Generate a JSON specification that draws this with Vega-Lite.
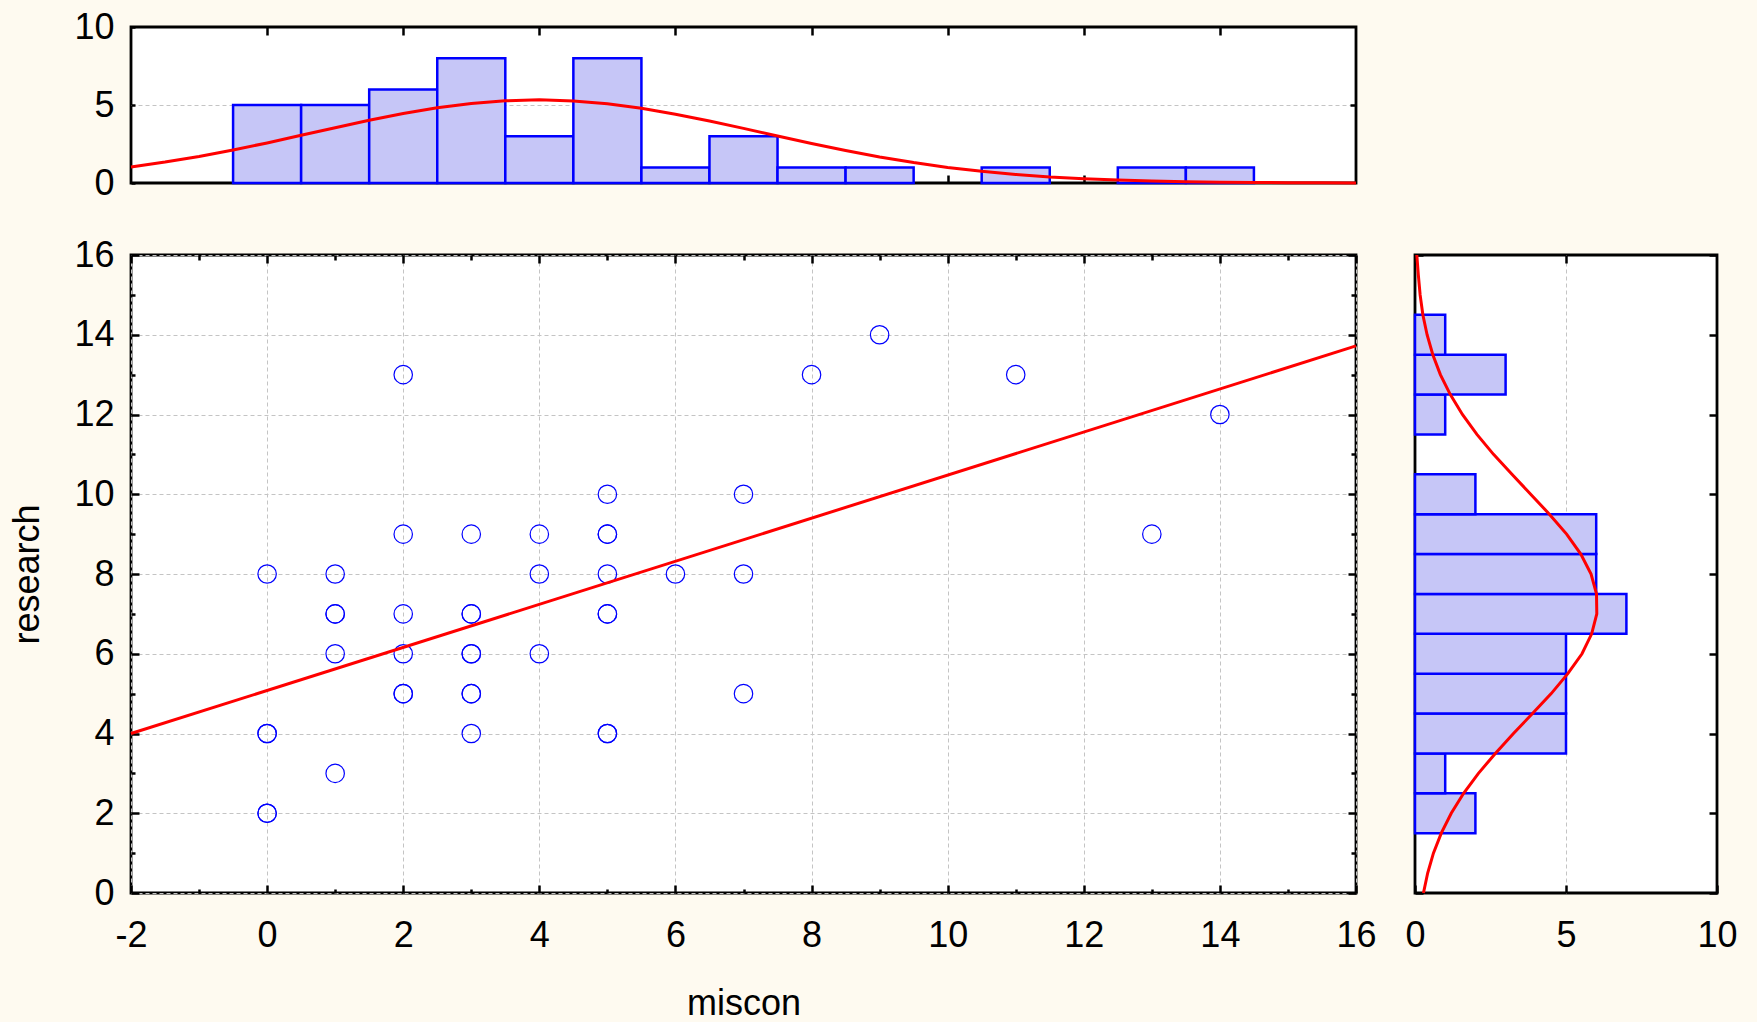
{
  "$schema": "https://vega.github.io/schema/vega-lite/v6.json",
  "background": "#FEFAF0",
  "padding": {"left": 8, "top": 7, "right": 20, "bottom": 0},
  "datasets": {
    "pts": [
      {"miscon": 0, "research": 8}, {"miscon": 0, "research": 4}, {"miscon": 0, "research": 4}, {"miscon": 0, "research": 2}, {"miscon": 0, "research": 2},
      {"miscon": 1, "research": 8}, {"miscon": 1, "research": 7}, {"miscon": 1, "research": 7}, {"miscon": 1, "research": 6}, {"miscon": 1, "research": 3},
      {"miscon": 2, "research": 13}, {"miscon": 2, "research": 9}, {"miscon": 2, "research": 7}, {"miscon": 2, "research": 6}, {"miscon": 2, "research": 5}, {"miscon": 2, "research": 5},
      {"miscon": 3, "research": 9}, {"miscon": 3, "research": 7}, {"miscon": 3, "research": 7}, {"miscon": 3, "research": 6}, {"miscon": 3, "research": 6}, {"miscon": 3, "research": 5}, {"miscon": 3, "research": 5}, {"miscon": 3, "research": 4},
      {"miscon": 4, "research": 9}, {"miscon": 4, "research": 8}, {"miscon": 4, "research": 6},
      {"miscon": 5, "research": 10}, {"miscon": 5, "research": 9}, {"miscon": 5, "research": 9}, {"miscon": 5, "research": 8}, {"miscon": 5, "research": 7}, {"miscon": 5, "research": 7}, {"miscon": 5, "research": 4}, {"miscon": 5, "research": 4},
      {"miscon": 6, "research": 8},
      {"miscon": 7, "research": 10}, {"miscon": 7, "research": 8}, {"miscon": 7, "research": 5},
      {"miscon": 8, "research": 13}, {"miscon": 9, "research": 14}, {"miscon": 11, "research": 13}, {"miscon": 13, "research": 9}, {"miscon": 14, "research": 12}
    ],
    "fit": [{"miscon": -2, "research": 4.0}, {"miscon": 16, "research": 13.72}],
    "histx": [
      {"lo": -0.5, "hi": 0.5, "count": 5}, {"lo": 0.5, "hi": 1.5, "count": 5}, {"lo": 1.5, "hi": 2.5, "count": 6},
      {"lo": 2.5, "hi": 3.5, "count": 8}, {"lo": 3.5, "hi": 4.5, "count": 3}, {"lo": 4.5, "hi": 5.5, "count": 8},
      {"lo": 5.5, "hi": 6.5, "count": 1}, {"lo": 6.5, "hi": 7.5, "count": 3}, {"lo": 7.5, "hi": 8.5, "count": 1},
      {"lo": 8.5, "hi": 9.5, "count": 1}, {"lo": 10.5, "hi": 11.5, "count": 1}, {"lo": 12.5, "hi": 13.5, "count": 1},
      {"lo": 13.5, "hi": 14.5, "count": 1}
    ],
    "histy": [
      {"lo": 1.5, "hi": 2.5, "count": 2}, {"lo": 2.5, "hi": 3.5, "count": 1}, {"lo": 3.5, "hi": 4.5, "count": 5},
      {"lo": 4.5, "hi": 5.5, "count": 5}, {"lo": 5.5, "hi": 6.5, "count": 5}, {"lo": 6.5, "hi": 7.5, "count": 7},
      {"lo": 7.5, "hi": 8.5, "count": 6}, {"lo": 8.5, "hi": 9.5, "count": 6}, {"lo": 9.5, "hi": 10.5, "count": 2},
      {"lo": 11.5, "hi": 12.5, "count": 1}, {"lo": 12.5, "hi": 13.5, "count": 3}, {"lo": 13.5, "hi": 14.5, "count": 1}
    ],
    "curvex": [
      {"miscon": -2, "count": 1.03}, {"miscon": -1.5, "count": 1.34}, {"miscon": -1, "count": 1.70}, {"miscon": -0.5, "count": 2.12},
      {"miscon": 0, "count": 2.57}, {"miscon": 0.5, "count": 3.06}, {"miscon": 1, "count": 3.54}, {"miscon": 1.5, "count": 4.02},
      {"miscon": 2, "count": 4.45}, {"miscon": 2.5, "count": 4.82}, {"miscon": 3, "count": 5.10}, {"miscon": 3.5, "count": 5.27},
      {"miscon": 4, "count": 5.33}, {"miscon": 4.5, "count": 5.26}, {"miscon": 5, "count": 5.08}, {"miscon": 5.5, "count": 4.79},
      {"miscon": 6, "count": 4.41}, {"miscon": 6.5, "count": 3.98}, {"miscon": 7, "count": 3.50}, {"miscon": 7.5, "count": 3.01},
      {"miscon": 8, "count": 2.53}, {"miscon": 8.5, "count": 2.08}, {"miscon": 9, "count": 1.67}, {"miscon": 9.5, "count": 1.31},
      {"miscon": 10, "count": 1.00}, {"miscon": 10.5, "count": 0.75}, {"miscon": 11, "count": 0.55}, {"miscon": 11.5, "count": 0.39},
      {"miscon": 12, "count": 0.28}, {"miscon": 12.5, "count": 0.19}, {"miscon": 13, "count": 0.13}, {"miscon": 13.5, "count": 0.08},
      {"miscon": 14, "count": 0.05}, {"miscon": 14.5, "count": 0.03}, {"miscon": 15, "count": 0.02}, {"miscon": 15.5, "count": 0.01},
      {"miscon": 16, "count": 0.005}
    ],
    "curvey": [
      {"research": 0, "count": 0.28}, {"research": 0.5, "count": 0.42}, {"research": 1, "count": 0.61}, {"research": 1.5, "count": 0.87},
      {"research": 2, "count": 1.20}, {"research": 2.5, "count": 1.61}, {"research": 3, "count": 2.10}, {"research": 3.5, "count": 2.66},
      {"research": 4, "count": 3.26}, {"research": 4.5, "count": 3.89}, {"research": 5, "count": 4.51}, {"research": 5.5, "count": 5.06},
      {"research": 6, "count": 5.53}, {"research": 6.5, "count": 5.85}, {"research": 7, "count": 6.02}, {"research": 7.5, "count": 6.01},
      {"research": 8, "count": 5.83}, {"research": 8.5, "count": 5.49}, {"research": 9, "count": 5.02}, {"research": 9.5, "count": 4.45},
      {"research": 10, "count": 3.83}, {"research": 10.5, "count": 3.21}, {"research": 11, "count": 2.60}, {"research": 11.5, "count": 2.05},
      {"research": 12, "count": 1.57}, {"research": 12.5, "count": 1.17}, {"research": 13, "count": 0.84}, {"research": 13.5, "count": 0.59},
      {"research": 14, "count": 0.40}, {"research": 14.5, "count": 0.26}, {"research": 15, "count": 0.17}, {"research": 15.5, "count": 0.11},
      {"research": 16, "count": 0.06}
    ]
  },
  "config": {
    "view": {"fill": "white", "stroke": "black", "strokeWidth": 2.8},
    "axis": {
      "domain": false,
      "labelFlush": false,
      "labelFont": "Liberation Sans",
      "labelFontSize": 36,
      "labelColor": "black",
      "titleFont": "Liberation Sans",
      "titleFontSize": 36,
      "titleFontWeight": "normal",
      "titleColor": "black",
      "tickColor": "black",
      "tickWidth": 2.5,
      "gridColor": "#c4c4c4",
      "gridDash": [4, 3],
      "gridWidth": 1
    }
  },
  "columns": 2,
  "bounds": "flush",
  "spacing": {"row": 72, "column": 59},
  "resolve": {"scale": {"x": "independent", "y": "independent"}},
  "concat": [
    {
      "width": 1225,
      "height": 156,
      "layer": [
        {
          "data": {"name": "histx"},
          "mark": {"type": "bar", "fill": "#C6C6F7", "stroke": "#0000FF", "strokeWidth": 2.5},
          "encoding": {
            "x": {"field": "lo", "type": "quantitative", "scale": {"domain": [-2, 16], "nice": false, "zero": false},
                  "axis": {"orient": "bottom", "values": [0, 2, 4, 6, 8, 10, 12, 14], "labels": false, "grid": false, "tickSize": -8, "title": null}},
            "x2": {"field": "hi"},
            "y": {"field": "count", "type": "quantitative", "scale": {"domain": [0, 10], "nice": false},
                  "axis": {"orient": "left", "values": [0, 5, 10], "labelExpr": "'' + datum.value", "grid": true, "gridOpacity": {"condition": {"test": "datum.value === 5", "value": 1}, "value": 0}, "tickSize": -4, "labelPadding": 21, "title": null}},
            "y2": {"datum": 0}
          }
        },
        {
          "data": {"name": "curvex"},
          "mark": {"type": "line", "color": "#FF0000", "strokeWidth": 3},
          "encoding": {
            "x": {"field": "miscon", "type": "quantitative",
                  "axis": {"orient": "top", "values": [0, 2, 4, 6, 8, 10, 12, 14], "labels": false, "grid": false, "tickSize": -8, "title": null}},
            "y": {"field": "count", "type": "quantitative",
                  "axis": {"orient": "right", "values": [5], "labels": false, "grid": false, "tickSize": -6, "title": null}}
          }
        }
      ],
      "resolve": {"axis": {"x": "independent", "y": "independent"}}
    },
    {
      "width": 302,
      "height": 156,
      "data": {"values": [{"a": 0}]},
      "view": {"fill": null, "stroke": null},
      "mark": {"type": "point", "opacity": 0}
    },
    {
      "width": 1225,
      "height": 638,
      "layer": [
        {
          "data": {"name": "pts"},
          "mark": {"type": "point", "shape": "circle", "filled": false, "color": "#0000FF", "strokeWidth": 1.2, "size": 340, "opacity": 1},
          "encoding": {
            "x": {"field": "miscon", "type": "quantitative", "scale": {"domain": [-2, 16], "nice": false, "zero": false},
                  "axis": {"orient": "bottom", "title": "miscon", "values": [-2, -1, 0, 1, 2, 3, 4, 5, 6, 7, 8, 9, 10, 11, 12, 13, 14, 15, 16],
                           "labelExpr": "datum.value % 2 === 0 ? '' + datum.value : ''",
                           "grid": true, "gridOpacity": {"condition": {"test": "datum.value % 2 === 0", "value": 1}, "value": 0},
                           "tickSize": {"condition": {"test": "datum.value % 2 === 0", "value": -8}, "value": -4},
                           "labelPadding": 33, "titlePadding": 33}},
            "y": {"field": "research", "type": "quantitative", "scale": {"domain": [0, 16], "nice": false},
                  "axis": {"orient": "left", "title": "research", "values": [0, 1, 2, 3, 4, 5, 6, 7, 8, 9, 10, 11, 12, 13, 14, 15, 16],
                           "labelExpr": "datum.value % 2 === 0 ? '' + datum.value : ''",
                           "grid": true, "gridOpacity": {"condition": {"test": "datum.value % 2 === 0", "value": 1}, "value": 0},
                           "tickSize": {"condition": {"test": "datum.value % 2 === 0", "value": -8}, "value": -4},
                           "labelPadding": 25, "titlePadding": 27}}
          }
        },
        {
          "data": {"name": "fit"},
          "mark": {"type": "line", "color": "#FF0000", "strokeWidth": 3},
          "encoding": {
            "x": {"field": "miscon", "type": "quantitative",
                  "axis": {"orient": "top", "title": null, "labels": false, "grid": false, "values": [-2, -1, 0, 1, 2, 3, 4, 5, 6, 7, 8, 9, 10, 11, 12, 13, 14, 15, 16],
                           "tickSize": {"condition": {"test": "datum.value % 2 === 0", "value": -8}, "value": -5}}},
            "y": {"field": "research", "type": "quantitative",
                  "axis": {"orient": "right", "title": null, "labels": false, "grid": false, "values": [0, 1, 2, 3, 4, 5, 6, 7, 8, 9, 10, 11, 12, 13, 14, 15, 16],
                           "tickSize": {"condition": {"test": "datum.value % 2 === 0", "value": -8}, "value": -5}}}
          }
        }
      ],
      "resolve": {"axis": {"x": "independent", "y": "independent"}}
    },
    {
      "width": 302,
      "height": 638,
      "layer": [
        {
          "data": {"name": "histy"},
          "mark": {"type": "bar", "fill": "#C6C6F7", "stroke": "#0000FF", "strokeWidth": 2.5},
          "encoding": {
            "y": {"field": "lo", "type": "quantitative", "scale": {"domain": [0, 16], "nice": false, "zero": false},
                  "axis": {"orient": "left", "values": [0, 2, 4, 6, 8, 10, 12, 14, 16], "labels": false, "grid": false, "tickSize": -8, "title": null}},
            "y2": {"field": "hi"},
            "x": {"field": "count", "type": "quantitative", "scale": {"domain": [0, 10], "nice": false},
                  "axis": {"orient": "bottom", "values": [0, 5, 10], "labelExpr": "'' + datum.value", "grid": true, "gridOpacity": {"condition": {"test": "datum.value === 5", "value": 1}, "value": 0}, "tickSize": -8, "labelPadding": 33, "title": null}},
            "x2": {"datum": 0}
          }
        },
        {
          "data": {"name": "curvey"},
          "mark": {"type": "line", "color": "#FF0000", "strokeWidth": 3},
          "encoding": {
            "y": {"field": "research", "type": "quantitative",
                  "axis": {"orient": "right", "values": [0, 2, 4, 6, 8, 10, 12, 14, 16], "labels": false, "grid": false, "tickSize": -8, "title": null}},
            "x": {"field": "count", "type": "quantitative",
                  "axis": {"orient": "top", "values": [5], "labels": false, "grid": false, "tickSize": -8, "title": null}},
            "order": {"field": "research", "type": "quantitative"}
          }
        }
      ],
      "resolve": {"axis": {"x": "independent", "y": "independent"}}
    }
  ]
}
